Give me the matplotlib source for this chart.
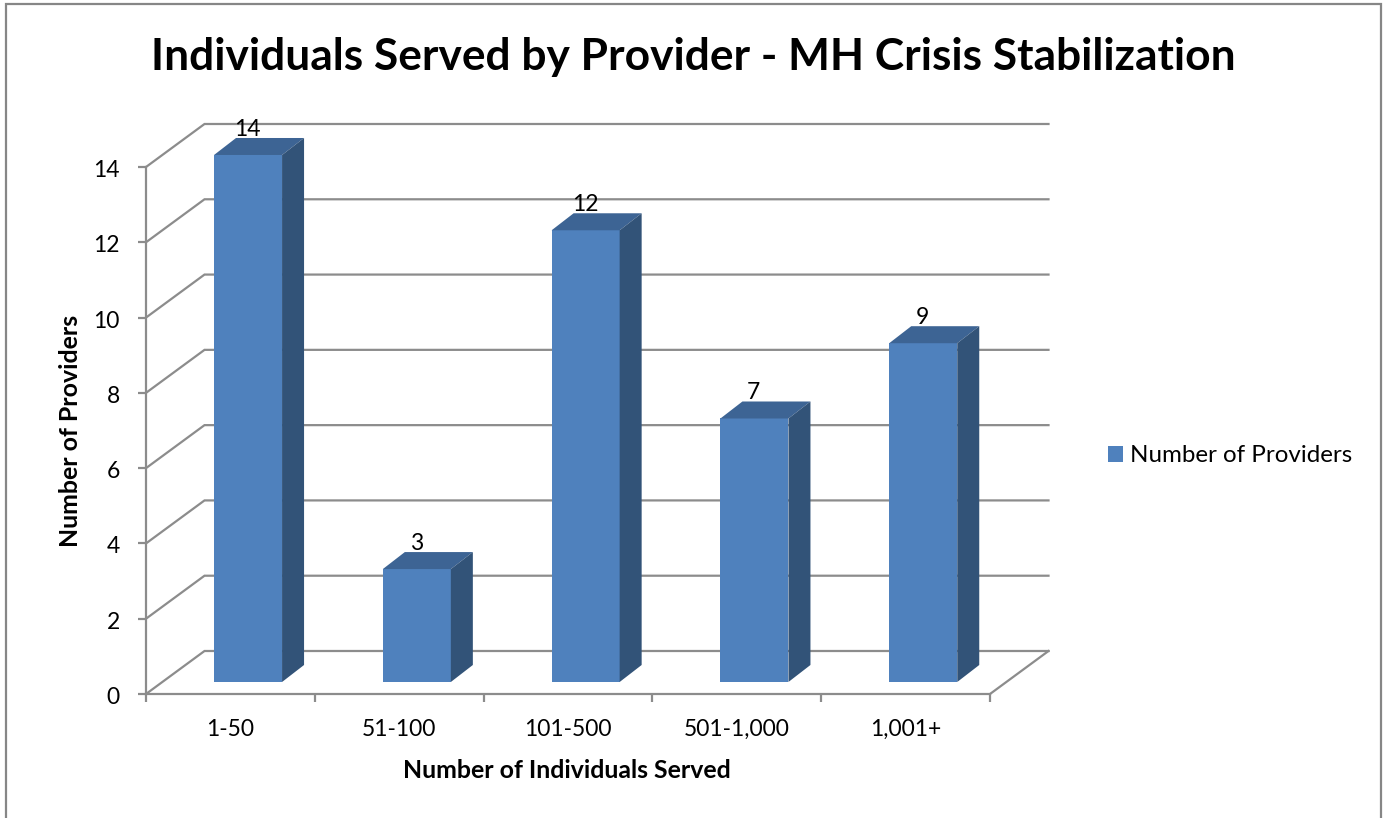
import matplotlib
matplotlib.use("Agg")
import matplotlib.pyplot as plt
from matplotlib.lines import Line2D
from matplotlib.patches import Polygon, Rectangle
from matplotlib.transforms import ScaledTranslation

categories = ["1-50", "51-100", "101-500", "501-1,000", "1,001+"]
providers = [14, 3, 12, 7, 9]
y_ticks = [0, 2, 4, 6, 8, 10, 12, 14]
title = "Individuals Served by Provider - MH Crisis Stabilization"
x_title = "Number of Individuals Served"
y_title = "Number of Providers"

W, H = 1383, 818
GRAY = "#8c8c8c"
FRONT, TOP, SIDE = "#4f81bd", "#3d6494", "#325378"
plt.rcParams["font.family"] = ["Lato", "DejaVu Sans"]

fig = plt.figure(figsize=(W / 100, H / 100), dpi=100, facecolor="white")
ax = fig.add_axes([146 / W, (H - 694) / H, 844 / W, 527 / H])
ax.set_xlim(0, len(categories))
ax.set_ylim(0, 14)
ax.patch.set_visible(False)

# depth of the 3-D box and of the bars, in data units
box_dx, box_dy = 58.5 / 168.8, 43 / 37.64
bar_dx, bar_dy = 22 / 168.8, 17 / 37.64
bar_w, bar_left, bar_lift = 0.403, 0.403, 0.319

for spine in ("top", "right"):
    ax.spines[spine].set_visible(False)
for spine in ("left", "bottom"):
    ax.spines[spine].set_color(GRAY)
    ax.spines[spine].set_linewidth(1.6)

n = len(categories)
for v in y_ticks:
    ax.plot([0, box_dx, n + box_dx], [v, v + box_dy, v + box_dy],
            color=GRAY, lw=1.6, clip_on=False, zorder=1, solid_joinstyle="miter")
ax.plot([n, n + box_dx], [0, box_dy], color=GRAY, lw=1.6, clip_on=False, zorder=1)

centers = [i + bar_left + bar_w / 2 for i in range(n)]
bars = ax.bar(centers, providers, width=bar_w, bottom=bar_lift, color=FRONT,
              label=y_title, zorder=3, clip_on=False)
for c, v in zip(centers, providers):
    l, r = c - bar_w / 2, c + bar_w / 2
    t, b = v + bar_lift, bar_lift
    ax.add_patch(Polygon([(l, t), (r, t), (r + bar_dx, t + bar_dy), (l + bar_dx, t + bar_dy)],
                         closed=True, facecolor=TOP, edgecolor="none", zorder=3, clip_on=False))
    ax.add_patch(Polygon([(r, b), (r + bar_dx, b + bar_dy), (r + bar_dx, t + bar_dy), (r, t)],
                         closed=True, facecolor=SIDE, edgecolor="none", zorder=3, clip_on=False))
    ax.annotate(str(v), (c, t), xytext=(-0.5, 18.5), textcoords="offset points",
                ha="center", va="center", fontsize=16.5, color="black", zorder=5,
                annotation_clip=False)

ax.set_yticks(y_ticks)
ax.set_yticklabels([str(v) for v in y_ticks], fontsize=16.5)
ax.set_xticks(range(n + 1))
ax.set_xticklabels([""] * (n + 1))
ax.set_xticks([i + 0.5 for i in range(n)], minor=True)
ax.set_xticklabels(categories, minor=True, fontsize=16.5)
ax.tick_params(axis="both", which="major", color=GRAY, width=1.6, length=5.8)
ax.tick_params(axis="y", pad=13)
ax.tick_params(axis="x", which="minor", length=0, pad=18.2)
nudge = ScaledTranslation(0, -1.5 / 100, fig.dpi_scale_trans)
for lab in ax.get_yticklabels():
    lab.set_transform(lab.get_transform() + nudge)

ax.set_xlabel(x_title, fontsize=17.9, fontweight="bold")
ax.xaxis.set_label_coords((567 - 146) / 844, (694 - 770) / 527)
ax.xaxis.label.set_va("center")
ax.set_ylabel(y_title, fontsize=17.9, fontweight="bold")
ax.yaxis.set_label_coords((71 - 146) / 844, (694 - 431) / 527)
ax.yaxis.label.set_va("center")

fig.text(693.5 / W, (H - 70) / H, title, ha="center", va="baseline",
         fontsize=31.9, fontweight="bold", color="black")

handle = Rectangle((0, 0), 1, 1, facecolor=FRONT, edgecolor="none")
fig.legend([handle], [y_title], loc="center left",
           bbox_to_anchor=(1098.5 / W, (H - 456) / H), frameon=False, fontsize=17.4,
           handlelength=0.62, handleheight=0.62, handletextpad=0.3, borderaxespad=0, borderpad=0.4)

fig.add_artist(Line2D([6 / W, 6 / W, 1381 / W, 1381 / W], [0, (H - 4) / H, (H - 4) / H, 0],
                      transform=fig.transFigure, color="#868686", lw=1.6,
                      solid_joinstyle="miter"))

fig.savefig("out.png", dpi=100, facecolor="white")
